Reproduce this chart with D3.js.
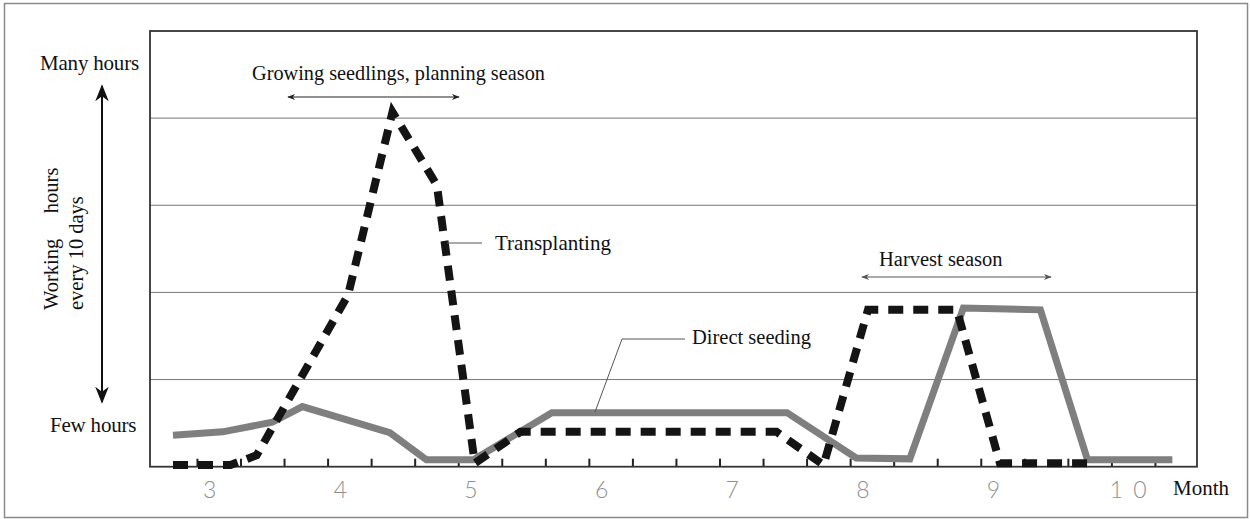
<!DOCTYPE html>
<html>
<head>
<meta charset="utf-8">
<script src="https://cdn.jsdelivr.net/npm/d3@7"></script>
<style>
  body { margin: 0; background: #fff; }
  svg text { font-family: "Liberation Serif", serif; fill: #111; }
</style>
</head>
<body>
<svg id="chart"></svg>
<script>
// month positions (fractional month, 3 = start of March) and relative working hours
var directX = [3.15, 3.53, 3.91, 4.14, 4.81, 5.09, 5.45, 6.05, 7.85, 8.38, 8.79, 9.2, 9.79, 10.15, 10.8];
var directY = [0.36, 0.40, 0.51, 0.69, 0.39, 0.08, 0.08, 0.62, 0.62, 0.10, 0.09, 1.82, 1.80, 0.08, 0.08];
var transX = [3.15, 3.59, 3.79, 4.49, 4.83, 5.17, 5.46, 5.81, 7.77, 8.13, 8.47, 9.15, 9.48, 10.17];
var transY = [0.02, 0.02, 0.13, 1.97, 4.07, 3.23, 0.04, 0.40, 0.40, 0.02, 1.80, 1.80, 0.04, 0.04];
var months = [3, 4, 5, 6, 7, 8, 9, 10];
var monthLabels = ["3", "4", "5", "6", "7", "8", "9", "10"];
var gridLevels = [1, 2, 3, 4];

var w = 1250;
var h = 519;

var svg = d3.select("#chart")
    .attr("width", w)
    .attr("height", h);

var x = d3.scaleLinear().domain([3, 11]).range([153.4, 1198.5]);
var y = d3.scaleLinear().domain([0, 5]).range([466.7, 31]);

var defs = svg.append("defs");
function marker(id, color, size) {
    var m = defs.append("marker")
        .attr("id", id)
        .attr("viewBox", "0 0 10 10")
        .attr("refX", 9)
        .attr("refY", 5)
        .attr("markerWidth", size)
        .attr("markerHeight", size)
        .attr("markerUnits", "userSpaceOnUse")
        .attr("orient", "auto-start-reverse");
    m.append("path")
        .attr("d", "M0,1 L10,5 L0,9 L3,5 Z")
        .attr("fill", color);
}
marker("arrowSmall", "#222", 8);
marker("arrowGray", "#555", 8);
marker("arrowBig", "#111", 17);

// outer border
svg.append("rect")
    .attr("x", 4.5)
    .attr("y", 3.5)
    .attr("width", 1243)
    .attr("height", 514)
    .attr("fill", "none")
    .attr("stroke", "#8a8a8a")
    .attr("stroke-width", 1.5);

// grid lines
svg.selectAll("line.grid")
    .data(gridLevels)
    .enter()
    .append("line")
    .attr("class", "grid")
    .attr("x1", 150)
    .attr("x2", 1197)
    .attr("y1", function (d) { return y(d); })
    .attr("y2", function (d) { return y(d); })
    .attr("stroke", "#777")
    .attr("stroke-width", 1);

// x axis with 10-day ticks
var tickVals = d3.range(1, 24).map(function (k) { return 3 + k / 3; });
svg.append("g")
    .attr("transform", "translate(0," + y(0) + ")")
    .call(d3.axisBottom(x).tickValues(tickVals).tickSize(-8).tickFormat(""))
    .call(function (g) {
        g.select(".domain").remove();
        g.selectAll(".tick line").attr("stroke", "#222").attr("stroke-width", 2);
    });

// month labels
svg.selectAll("text.month")
    .data(months)
    .enter()
    .append("text")
    .attr("class", "month")
    .attr("x", function (d) { return x(d + 0.5) - (d === 10 ? 0 : 9); })
    .attr("y", 498)
    .attr("text-anchor", "middle")
    .style("font-family", "Lato, 'DejaVu Sans', sans-serif")
    .style("font-weight", 300)
    .style("font-size", "23px")
    .style("fill", "#8f8f8f")
    .style("letter-spacing", function (d) { return d === 10 ? "10px" : "0px"; })
    .text(function (d, i) { return monthLabels[i]; });

svg.append("text")
    .text("Month")
    .attr("x", 1173)
    .attr("y", 495)
    .style("font-size", "21px");

// plot frame
svg.append("rect")
    .attr("x", 150)
    .attr("y", 31)
    .attr("width", 1047)
    .attr("height", y(0) - 31)
    .attr("fill", "none")
    .attr("stroke", "#333")
    .attr("stroke-width", 1.8);

// lines
var directData = directX.map(function (d, i) { return [d, directY[i]]; });
var transData = transX.map(function (d, i) { return [d, transY[i]]; });
var line = d3.line()
    .x(function (d) { return x(d[0]); })
    .y(function (d) { return y(d[1]); });

svg.append("path")
    .datum(directData)
    .attr("d", line)
    .attr("fill", "none")
    .attr("stroke", "#7f7f7f")
    .attr("stroke-width", 7)
    .attr("stroke-linejoin", "miter");

svg.append("path")
    .datum(transData)
    .attr("d", line)
    .attr("fill", "none")
    .attr("stroke", "#141414")
    .attr("stroke-width", 8)
    .attr("stroke-dasharray", "15 10")
    .attr("stroke-linejoin", "miter");

// y axis arrow and labels
svg.append("line")
    .attr("x1", 102).attr("x2", 102)
    .attr("y1", 86).attr("y2", 402)
    .attr("stroke", "#111")
    .attr("stroke-width", 2)
    .attr("marker-start", "url(#arrowBig)")
    .attr("marker-end", "url(#arrowBig)");

svg.append("text")
    .text("Many hours")
    .attr("x", 40)
    .attr("y", 70)
    .style("font-size", "21px")
    .style("letter-spacing", "-0.2px");

svg.append("text")
    .text("Few hours")
    .attr("x", 50)
    .attr("y", 432)
    .style("font-size", "21px")
    .style("letter-spacing", "-0.2px");

svg.append("text")
    .attr("transform", "translate(58,310) rotate(-90)")
    .attr("xml:space", "preserve")
    .style("white-space", "pre")
    .style("font-size", "20.5px")
    .text("Working     hours");

svg.append("text")
    .attr("transform", "translate(83,310) rotate(-90)")
    .style("font-size", "20.5px")
    .text("every 10 days");

// annotations
svg.append("rect")
    .attr("x", 237).attr("y", 57)
    .attr("width", 308).attr("height", 32)
    .attr("fill", "#fff");

svg.append("text")
    .text("Growing seedlings, planning season")
    .attr("x", 252)
    .attr("y", 80)
    .style("font-size", "20.3px");

svg.append("line")
    .attr("x1", 288).attr("x2", 459)
    .attr("y1", 97).attr("y2", 97)
    .attr("stroke", "#222")
    .attr("stroke-width", 1)
    .attr("marker-start", "url(#arrowSmall)")
    .attr("marker-end", "url(#arrowSmall)");

svg.append("line")
    .attr("x1", 447).attr("x2", 482)
    .attr("y1", 243).attr("y2", 243)
    .attr("stroke", "#555")
    .attr("stroke-width", 1);

svg.append("text")
    .text("Transplanting")
    .attr("x", 495)
    .attr("y", 250)
    .style("font-size", "21px");

svg.append("polyline")
    .attr("points", "685,339 622,339 595,412")
    .attr("fill", "none")
    .attr("stroke", "#555")
    .attr("stroke-width", 1);

svg.append("text")
    .text("Direct seeding")
    .attr("x", 692)
    .attr("y", 344)
    .style("font-size", "20.5px");

svg.append("text")
    .text("Harvest season")
    .attr("x", 879)
    .attr("y", 266)
    .style("font-size", "20.5px");

svg.append("line")
    .attr("x1", 862).attr("x2", 1051)
    .attr("y1", 277).attr("y2", 277)
    .attr("stroke", "#555")
    .attr("stroke-width", 1)
    .attr("marker-start", "url(#arrowGray)")
    .attr("marker-end", "url(#arrowGray)");
</script>
</body>
</html>
